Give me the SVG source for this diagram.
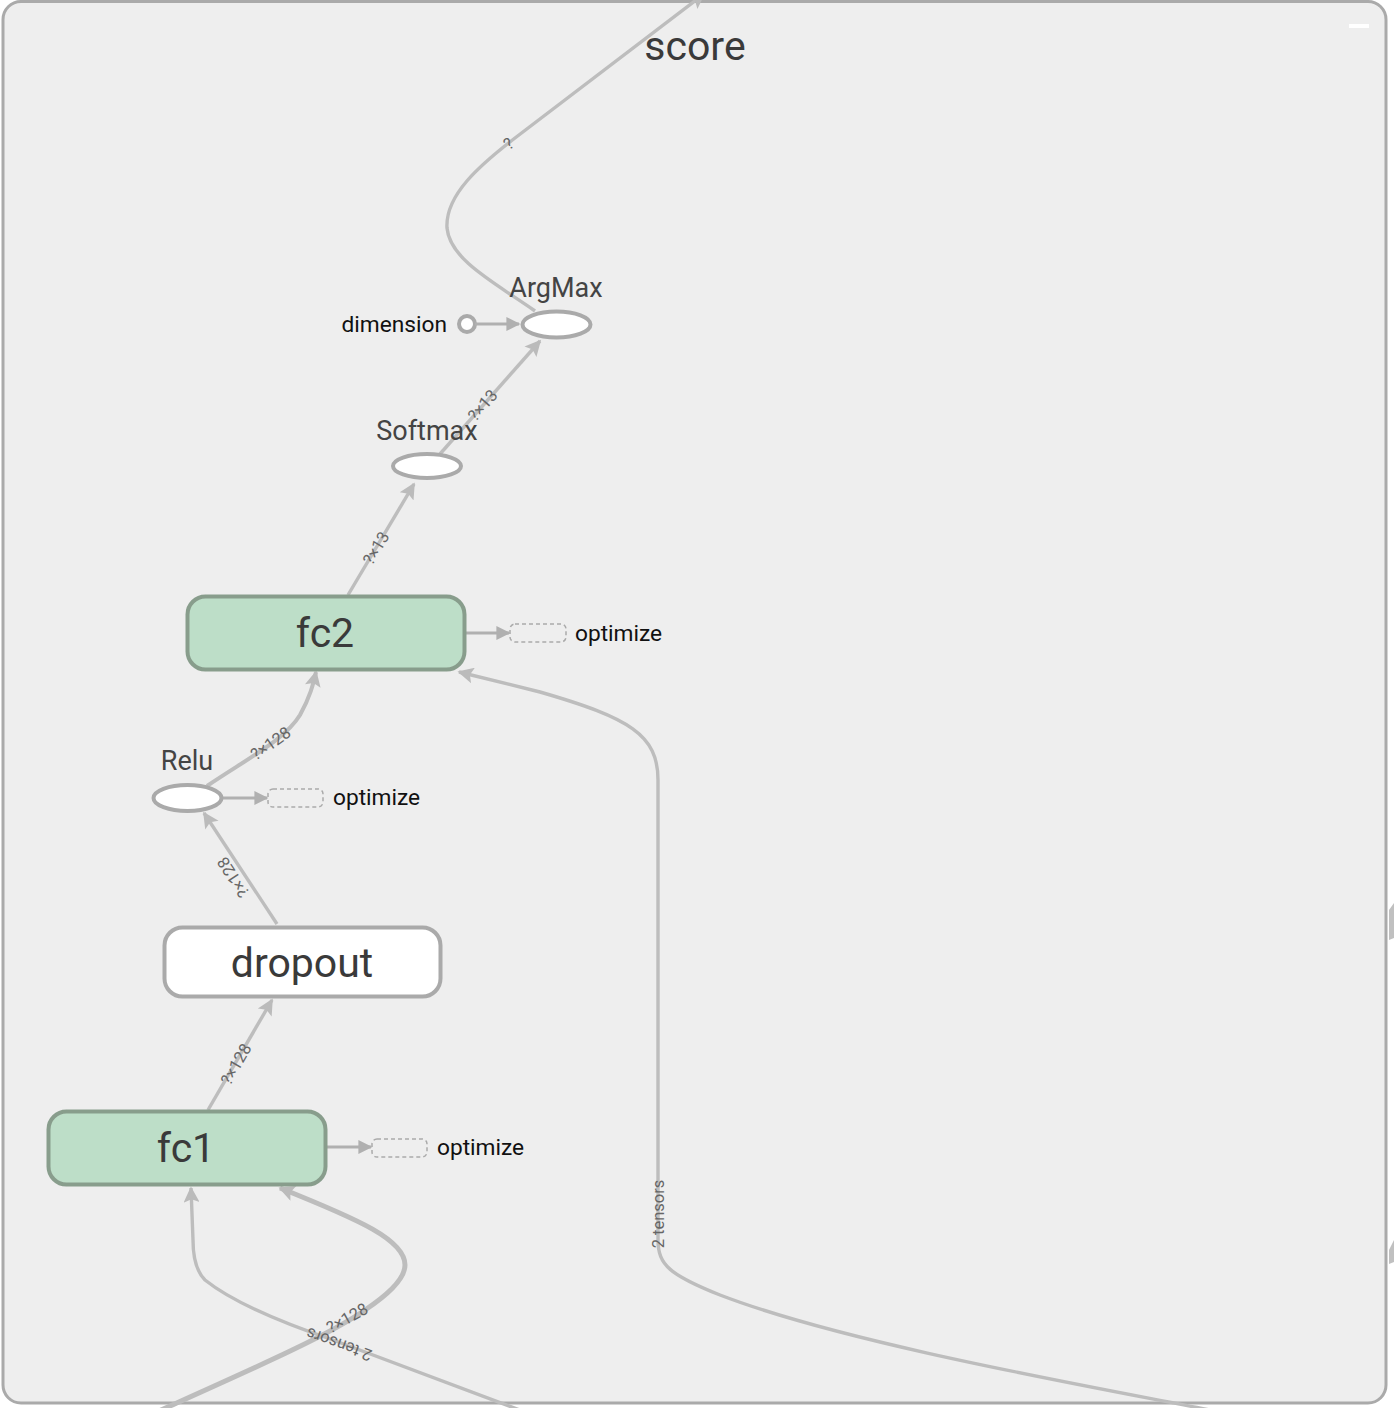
<svg xmlns="http://www.w3.org/2000/svg" width="1394" height="1408" viewBox="0 0 1394 1408">
<defs>
<marker id="arr" viewBox="0 0 10 10" refX="9" refY="5" markerWidth="20" markerHeight="16" markerUnits="userSpaceOnUse" orient="auto">
<path d="M0,0 L10,5 L0,10 L2,5 z" fill="#bbb"/>
</marker>
<marker id="arr2" viewBox="0 0 10 10" refX="9" refY="5" markerWidth="18" markerHeight="14" markerUnits="userSpaceOnUse" orient="auto">
<path d="M0,0 L10,5 L0,10 z" fill="#b0b0b0"/>
</marker>
<style>
.edge{fill:none;stroke:#bdbdbd;stroke-width:3.4;marker-end:url(#arr)}
.thick{stroke-width:5}
.ctl{fill:none;stroke:#b0b0b0;stroke-width:3;marker-end:url(#arr2)}
.elab{font-family:Roboto,"Liberation Sans",sans-serif;font-size:16.5px;fill:#666;text-anchor:middle}
.big{font-family:Roboto,"Liberation Sans",sans-serif;font-size:41px;fill:#3a3a3a;text-anchor:middle}
.op{font-family:Roboto,"Liberation Sans",sans-serif;font-size:27px;fill:#444;text-anchor:middle}
.side{font-family:Roboto,"Liberation Sans",sans-serif;font-size:22.7px;fill:#111}
.ell{fill:#fff;stroke:#aaa;stroke-width:4}
.meta{fill:#bddec8;stroke:#889d8c;stroke-width:4}
.dash{fill:none;stroke:#aaa;stroke-width:1.5;stroke-dasharray:4,3}
</style>
</defs>
<rect x="0" y="0" width="1394" height="1408" fill="#fff"/>
<rect x="3" y="1.5" width="1383" height="1401.5" rx="18" fill="#eee" stroke="#aaa" stroke-width="3"/>
<rect x="1349" y="24" width="20" height="4" fill="#fff"/>
<polygon points="1389,910 1394,903 1394,938 1389,940" fill="#c0c0c0"/>
<polygon points="1389,1250 1394,1240 1394,1262 1389,1264" fill="#c0c0c0"/>

<g id="connectors">
<path class="edge" d="M535,311 C495,283 450,260 447,228 C445,195 480,165 515,138 L704,-6"/>
<text class="elab" transform="translate(512,148) rotate(-38)">?</text>
<path class="edge" d="M440,454 L540,341"/>
<text class="elab" transform="translate(487,409) rotate(-49)">?×13</text>
<path class="edge" d="M348,595 L414,484"/>
<text class="elab" transform="translate(381,551) rotate(-59)">?×13</text>
<path class="edge" style="stroke-width:4" d="M207,786 C245,760 285,740 300,715 C310,697 313,685 316,672"/>
<text class="elab" transform="translate(274,748) rotate(-35)">?×128</text>
<path class="ctl" d="M223,798 L267,798"/>
<path class="edge" d="M277,924 L204,813"/>
<text class="elab" transform="translate(238,874) rotate(237)">?×128</text>
<path class="edge" d="M208,1110 L272,1000"/>
<text class="elab" transform="translate(241,1067) rotate(-60)">?×128</text>
<path class="ctl" d="M327,1147 L371,1147"/>
<path class="ctl" d="M466,633 L509,633"/>
<path class="edge thick" d="M150,1415 C250,1370 330,1335 365,1310 C395,1290 405,1275 405,1265 C405,1240 360,1220 280,1188"/>
<text class="elab" transform="translate(350,1323) rotate(-29)">?×128</text>
<path class="edge" d="M525,1412 L333,1340 C280,1322 230,1300 205,1280 C195,1270 193,1255 193,1240 L191,1188"/>
<text class="elab" transform="translate(341,1339) rotate(200)">2 tensors</text>
<path class="edge" d="M1220,1412 C1100,1388 850,1345 720,1295 C670,1275 658,1265 658,1240 L658,780 C658,735 630,718 540,692 L459,672"/>
<text class="elab" transform="translate(664,1214) rotate(-90)">2 tensors</text>
</g>

<g id="score"><text class="big" x="695" y="60">score</text></g>

<g id="ArgMax">
<ellipse class="ell" cx="556.5" cy="324.5" rx="34" ry="13"/>
<text class="op" x="556" y="297">ArgMax</text>
</g>
<g id="dimension">
<circle class="ell" cx="467" cy="324" r="8"/>
<path class="ctl" d="M475,324 L519,324"/>
<text class="side" x="447" y="332" text-anchor="end">dimension</text>
</g>
<g id="Softmax">
<ellipse class="ell" cx="427" cy="466" rx="34" ry="12"/>
<text class="op" x="427" y="440">Softmax</text>
</g>
<g id="fc2">
<rect class="meta" x="187.5" y="596.5" width="277" height="73" rx="18"/>
<text class="big" x="325" y="647">fc2</text>
</g>
<g id="fc2_optimize">
<rect class="dash" x="510" y="624" width="56" height="18" rx="5"/>
<text class="side" x="575" y="641">optimize</text>
</g>
<g id="Relu">
<ellipse class="ell" cx="187.5" cy="798" rx="34" ry="13"/>
<text class="op" x="187" y="770">Relu</text>
</g>
<g id="Relu_optimize">
<rect class="dash" x="268" y="789" width="55" height="18" rx="5"/>
<text class="side" x="333" y="805">optimize</text>
</g>
<g id="dropout">
<rect x="164.5" y="927.5" width="276" height="69" rx="18" fill="#fff" stroke="#aaa" stroke-width="4"/>
<text class="big" x="302" y="977">dropout</text>
</g>
<g id="fc1">
<rect class="meta" x="48.5" y="1111.5" width="277" height="73" rx="18"/>
<text class="big" x="186" y="1162">fc1</text>
</g>
<g id="fc1_optimize">
<rect class="dash" x="372" y="1139" width="55" height="18" rx="5"/>
<text class="side" x="437" y="1155">optimize</text>
</g>
</svg>
